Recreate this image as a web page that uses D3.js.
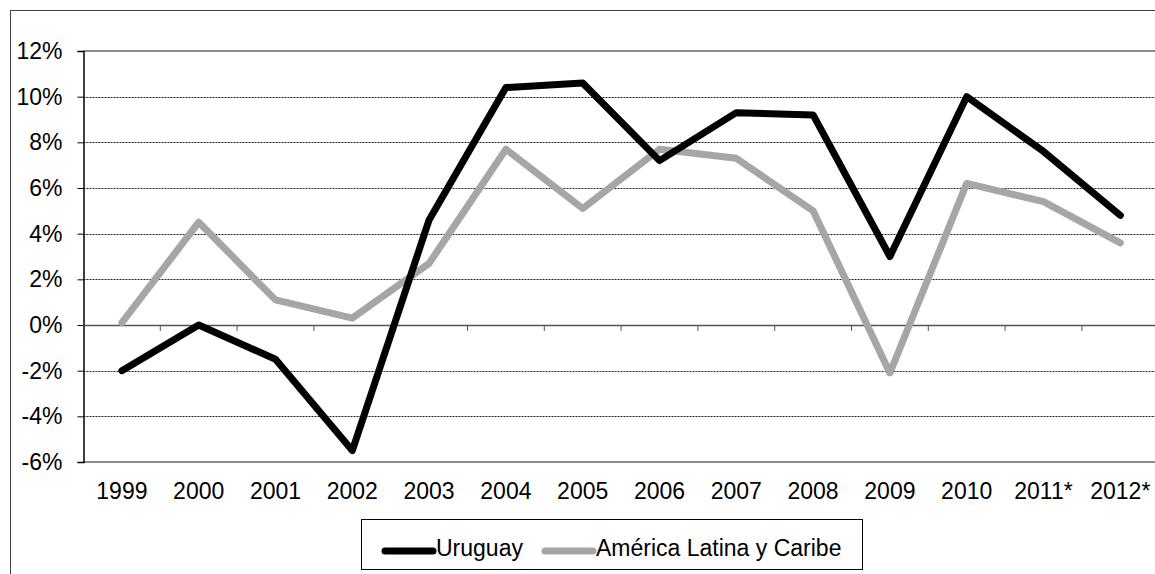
<!DOCTYPE html>
<html>
<head>
<meta charset="utf-8">
<script src="https://cdn.jsdelivr.net/npm/d3@7"></script>
<style>
  html, body { margin: 0; padding: 0; background: #fff; }
  svg { display: block; font-family: "Liberation Sans", Arial, sans-serif; }
</style>
</head>
<body>
<svg id="chart" width="1155" height="574"></svg>
<script>
// Annual GDP growth (%)
const years = ["1999", "2000", "2001", "2002", "2003", "2004", "2005", "2006", "2007", "2008", "2009", "2010", "2011*", "2012*"];
const uruguay = [-2.0, 0.0, -1.5, -5.5, 4.6, 10.4, 10.6, 7.2, 9.3, 9.2, 3.0, 10.0, 7.6, 4.8];
const americaLatina = [0.1, 4.5, 1.1, 0.3, 2.7, 7.7, 5.1, 7.7, 7.3, 5.0, -2.1, 6.2, 5.4, 3.6];
const yTicks = [-6, -4, -2, 0, 2, 4, 6, 8, 10, 12];
const seriesNames = ["Uruguay", "América Latina y Caribe"];
const seriesColors = ["#000000", "#a6a6a6"];

const FONT = 23;
const svg = d3.select("#chart");
const plot = { left: 83.5, top: 51, bandW: 76.8, bottom: 462 };
const plotRight = plot.left + plot.bandW * years.length;

const x = d3.scaleBand().domain(years).range([plot.left, plotRight]).paddingInner(0).paddingOuter(0);
const y = d3.scaleLinear().domain([-6, 12]).range([plot.bottom, plot.top]);

// outer chart frame
svg.append("rect")
  .attr("x", 10.5).attr("y", 10.5)
  .attr("width", 1200).attr("height", 600)
  .attr("fill", "none").attr("stroke", "#404040").attr("stroke-width", 1);

// dotted gridlines
svg.append("g")
  .selectAll("line")
  .data(yTicks.filter(v => v !== 0 && v !== -6 && v !== 12))
  .join("line")
  .attr("x1", plot.left).attr("x2", plotRight)
  .attr("y1", d => Math.round(y(d)) + 0.5).attr("y2", d => Math.round(y(d)) + 0.5)
  .attr("stroke", "#222").attr("stroke-width", 1).attr("stroke-dasharray", "2,1");

// plot-area border lines (top and bottom)
[12, -6].forEach(v => {
  svg.append("line")
    .attr("x1", plot.left).attr("x2", plotRight)
    .attr("y1", y(v)).attr("y2", y(v))
    .attr("stroke", "#8c8c8c").attr("stroke-width", 2);
});

// value axis
const yAxis = d3.axisLeft(y).tickValues(yTicks).tickSize(6).tickPadding(15)
  .tickFormat(d => d + "%");
const gy = svg.append("g").attr("transform", `translate(${plot.left},0)`).call(yAxis);
gy.select(".domain").attr("stroke", "#000").attr("stroke-width", 1.5);
gy.selectAll(".tick line").attr("stroke", "#000");
gy.selectAll(".tick text").attr("font-size", FONT).attr("fill", "#000")
  .attr("font-family", "'Liberation Sans', Arial, sans-serif");

// category axis crossing at 0%
const xAxis = d3.axisBottom(x).tickSize(0).tickSizeOuter(0).tickPadding(0);
const gx = svg.append("g").attr("transform", `translate(0,${y(0)})`).call(xAxis);
gx.select(".domain").attr("stroke", "#555").attr("stroke-width", 1.5);
gx.selectAll(".tick text").remove();
// tick marks between categories
svg.append("g")
  .selectAll("line")
  .data(years.slice(1))
  .join("line")
  .attr("x1", d => x(d)).attr("x2", d => x(d))
  .attr("y1", y(0)).attr("y2", y(0) + 6)
  .attr("stroke", "#555").attr("stroke-width", 1);

// category labels below the plot
svg.append("g")
  .selectAll("text")
  .data(years)
  .join("text")
  .attr("x", d => x(d) + x.bandwidth() / 2)
  .attr("y", 499)
  .attr("text-anchor", "middle")
  .attr("font-size", FONT)
  .attr("fill", "#000")
  .text(d => d);

// series lines
const line = d3.line()
  .x((d, i) => x(years[i]) + x.bandwidth() / 2)
  .y(d => y(d));

[americaLatina, uruguay].forEach((vals, k) => {
  const idx = k === 0 ? 1 : 0;
  svg.append("path")
    .datum(vals)
    .attr("d", line)
    .attr("fill", "none")
    .attr("stroke", seriesColors[idx])
    .attr("stroke-width", 7)
    .attr("stroke-linejoin", "round")
    .attr("stroke-linecap", "round");
});

// legend
const lg = svg.append("g");
lg.append("rect")
  .attr("x", 361.5).attr("y", 519.5).attr("width", 501).attr("height", 50)
  .attr("fill", "#fff").attr("stroke", "#000").attr("stroke-width", 1);
const legendItems = [
  { x0: 385, x1: 433, tx: 436 },
  { x0: 545, x1: 593, tx: 596 }
];
legendItems.forEach((it, i) => {
  lg.append("line")
    .attr("x1", it.x0).attr("x2", it.x1).attr("y1", 551).attr("y2", 551)
    .attr("stroke", seriesColors[i]).attr("stroke-width", 7).attr("stroke-linecap", "round");
  lg.append("text")
    .attr("x", it.tx).attr("y", 556)
    .attr("font-size", FONT).attr("fill", "#000")
    .text(seriesNames[i]);
});
</script>
</body>
</html>
